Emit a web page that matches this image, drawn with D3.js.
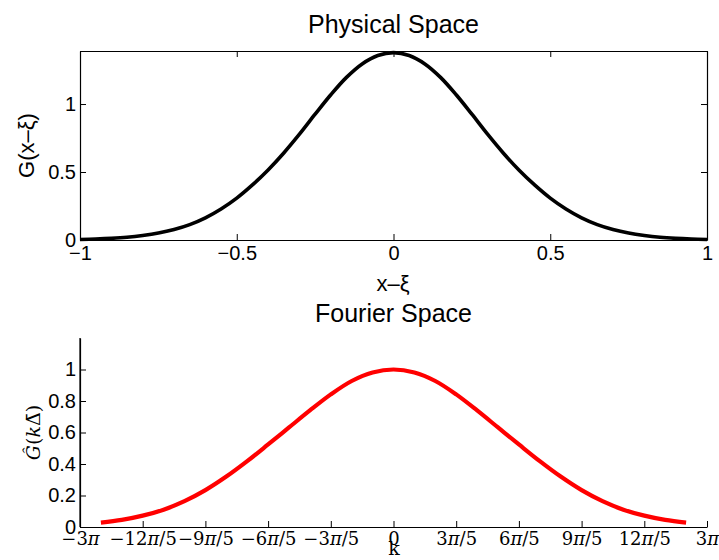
<!DOCTYPE html>
<html>
<head>
<meta charset="utf-8">
<script src="https://cdn.jsdelivr.net/npm/d3@7"></script>
<style>
  body { margin: 0; background: #fff; }
  svg text { fill: #000; }
</style>
</head>
<body>
<svg id="chart" width="719" height="560"></svg>
<script>
// Filter kernel sampled in physical space, x − ξ from −1 to 1
const xPhys = [-1.00,-0.95,-0.90,-0.85,-0.80,-0.75,-0.70,-0.65,-0.60,-0.55,-0.50,-0.45,-0.40,-0.35,-0.30,-0.25,-0.20,-0.15,-0.10,-0.05,
                0.00, 0.05, 0.10, 0.15, 0.20, 0.25, 0.30, 0.35, 0.40, 0.45, 0.50, 0.55, 0.60, 0.65, 0.70, 0.75, 0.80, 0.85, 0.90, 0.95, 1.00];
const gPhys = [0.004,0.007,0.012,0.020,0.033,0.051,0.077,0.113,0.163,0.228,0.308,0.405,0.515,0.640,0.778,0.925,1.068,1.196,1.295,1.357,
               1.378,1.357,1.295,1.196,1.068,0.925,0.778,0.640,0.515,0.405,0.308,0.228,0.163,0.113,0.077,0.051,0.033,0.020,0.012,0.007,0.004];

// Transfer function, wavenumber k in multiples of π
const kFourier = [-2.8,-2.6,-2.4,-2.2,-2.0,-1.8,-1.6,-1.4,-1.2,-1.0,-0.8,-0.6,-0.4,-0.2,0,
                   0.2, 0.4, 0.6, 0.8, 1.0, 1.2, 1.4, 1.6, 1.8, 2.0, 2.2, 2.4, 2.6, 2.8];
const gFourier = [0.028,0.045,0.072,0.110,0.164,0.234,0.320,0.418,0.524,0.632,0.740,0.842,0.927,0.981,1.000,
                  0.981,0.927,0.842,0.740,0.632,0.524,0.418,0.320,0.234,0.164,0.110,0.072,0.045,0.028];

// Ticks
const physXTicks = [-1, -0.5, 0, 0.5, 1];
const physXLabels = ["\u22121", "\u22120.5", "0", "0.5", "1"];
const physYTicks = [0, 0.5, 1];
const physYLabels = ["0", "0.5", "1"];
const fourierXTicks = [-3, -2.4, -1.8, -1.2, -0.6, 0, 0.6, 1.2, 1.8, 2.4, 3];
const fourierXLabels = ["\u22123\u03c0", "\u221212\u03c0/5", "\u22129\u03c0/5", "\u22126\u03c0/5", "\u22123\u03c0/5", "0",
                        "3\u03c0/5", "6\u03c0/5", "9\u03c0/5", "12\u03c0/5", "3\u03c0"];
const fourierYTicks = [0, 0.2, 0.4, 0.6, 0.8, 1];
const fourierYLabels = ["0", "0.2", "0.4", "0.6", "0.8", "1"];

const SANS = "'Liberation Sans', Arial, Helvetica, sans-serif";
const SERIF = "'DejaVu Serif', 'Liberation Serif', serif";
const svg = d3.select("#chart");

// ---------- Physical space panel ----------
const p1 = { left: 80, right: 707, top: 51, bottom: 240 };
const x1 = d3.scaleLinear().domain([-1, 1]).range([p1.left, p1.right]);
const y1 = d3.scaleLinear().domain([0, 1.39]).range([p1.bottom, p1.top]);

const g1 = svg.append("g");

g1.append("g").attr("transform", `translate(0,${p1.bottom})`)
  .call(d3.axisBottom(x1).tickValues(physXTicks).tickSizeInner(-6).tickSizeOuter(0).tickPadding(6)
        .tickFormat((d, i) => physXLabels[i]));
g1.append("g").attr("transform", `translate(0,${p1.top})`)
  .call(d3.axisTop(x1).tickValues(physXTicks).tickSizeInner(-6).tickSizeOuter(0).tickFormat(""));
g1.append("g").attr("transform", `translate(${p1.left},0)`)
  .call(d3.axisLeft(y1).tickValues(physYTicks).tickSizeInner(-6).tickSizeOuter(0).tickPadding(4)
        .tickFormat((d, i) => physYLabels[i]));
g1.append("g").attr("transform", `translate(${p1.right},0)`)
  .call(d3.axisRight(y1).tickValues(physYTicks).tickSizeInner(-6).tickSizeOuter(0).tickFormat(""));

g1.selectAll(".domain").attr("stroke", "#000").attr("stroke-width", 1.2);
g1.selectAll(".tick line").attr("stroke", "#000").attr("stroke-width", 1);
g1.selectAll(".tick text").attr("font-family", SANS).attr("font-size", 20).attr("fill", "#000");

g1.append("path")
  .datum(xPhys.map((x, i) => [x, gPhys[i]]))
  .attr("fill", "none").attr("stroke", "#000").attr("stroke-width", 3.6)
  .attr("stroke-linejoin", "round")
  .attr("d", d3.line().x(d => x1(d[0])).y(d => y1(d[1])).curve(d3.curveCatmullRom));

svg.append("text").attr("x", (p1.left + p1.right) / 2).attr("y", 33)
  .attr("text-anchor", "middle").attr("font-family", SANS).attr("font-size", 25)
  .text("Physical Space");
svg.append("text").attr("x", 393).attr("y", 291)
  .attr("text-anchor", "middle").attr("font-family", SANS).attr("font-size", 22)
  .text("x\u2013\u03be");
svg.append("text")
  .attr("transform", `translate(34,${(p1.top + p1.bottom) / 2}) rotate(-90)`)
  .attr("text-anchor", "middle").attr("font-family", SANS).attr("font-size", 22)
  .text("G(x\u2013\u03be)");

// ---------- Fourier space panel ----------
const p2 = { left: 80, right: 707, top: 338, bottom: 527 };
const x2 = d3.scaleLinear().domain([-3, 3]).range([p2.left, p2.right]);
const y2 = d3.scaleLinear().domain([0, 1.2]).range([p2.bottom, p2.top]);

const g2 = svg.append("g");

const xAx2 = g2.append("g").attr("transform", `translate(0,${p2.bottom})`)
  .call(d3.axisBottom(x2).tickValues(fourierXTicks).tickSizeInner(-6).tickSizeOuter(0).tickFormat(""));
g2.append("g").attr("transform", `translate(${p2.left},0)`)
  .call(d3.axisLeft(y2).tickValues(fourierYTicks).tickSizeInner(-6).tickSizeOuter(0).tickPadding(4)
        .tickFormat((d, i) => fourierYLabels[i]));
// y axis line runs to the top of the panel
g2.append("line").attr("x1", p2.left).attr("x2", p2.left).attr("y1", p2.top).attr("y2", p2.bottom)
  .attr("stroke", "#000").attr("stroke-width", 1.2);

g2.selectAll(".domain").attr("stroke", "#000").attr("stroke-width", 1.2);
g2.selectAll(".tick line").attr("stroke", "#000").attr("stroke-width", 1);
g2.selectAll(".tick text").attr("font-family", SANS).attr("font-size", 20).attr("fill", "#000");

// π-fraction tick labels with italic π
xAx2.selectAll(".tick").each(function(d, i) {
  const t = d3.select(this).append("text")
    .attr("y", 18).attr("text-anchor", "middle")
    .attr("font-family", SERIF).attr("font-size", 18).attr("fill", "#000");
  const parts = fourierXLabels[i].split("\u03c0");
  parts.forEach((p, j) => {
    if (p) t.append("tspan").text(p);
    if (j < parts.length - 1) t.append("tspan").attr("font-style", "italic").text("\u03c0");
  });
});

g2.append("path")
  .datum(kFourier.map((k, i) => [k, gFourier[i]]))
  .attr("fill", "none").attr("stroke", "#ff0000").attr("stroke-width", 4.2)
  .attr("stroke-linejoin", "round")
  .attr("d", d3.line().x(d => x2(d[0])).y(d => y2(d[1])).curve(d3.curveCatmullRom));

svg.append("text").attr("x", (p2.left + p2.right) / 2).attr("y", 322)
  .attr("text-anchor", "middle").attr("font-family", SANS).attr("font-size", 25)
  .text("Fourier Space");
svg.append("text").attr("x", 394).attr("y", 555)
  .attr("text-anchor", "middle").attr("font-family", SERIF).attr("font-size", 19)
  .text("k");
const yl2 = svg.append("text")
  .attr("transform", `translate(40,${(p2.top + p2.bottom) / 2}) rotate(-90)`)
  .attr("text-anchor", "middle").attr("font-family", SERIF).attr("font-size", 19);
yl2.append("tspan").attr("font-style", "italic").text("G\u0302");
yl2.append("tspan").text("(");
yl2.append("tspan").attr("font-style", "italic").text("k");
yl2.append("tspan").text("\u0394\u0304");
yl2.append("tspan").text(")");
</script>
</body>
</html>
